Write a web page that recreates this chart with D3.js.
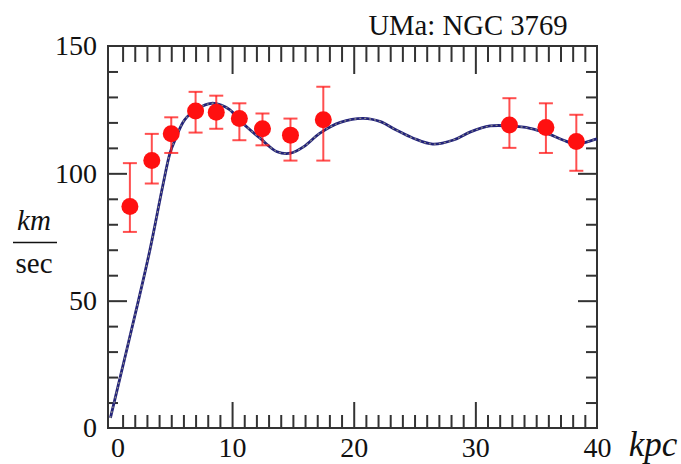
<!DOCTYPE html>
<html><head><meta charset="utf-8">
<script src="https://cdn.jsdelivr.net/npm/d3@7"></script>
<style>body{margin:0;background:#fff}svg{display:block}</style>
</head><body><svg id="c" width="681" height="464"></svg>
<script>
// Observed data points (kpc, km/sec) with lower/upper error bar ends
const radius = [1.6, 3.4, 5.0, 7.0, 8.7, 10.6, 12.5, 14.8, 17.5, 32.8, 35.8, 38.3];
const velocity = [87, 105, 115.5, 124.5, 124, 121.5, 117.5, 115, 121, 119, 118, 112.5];
const errLow = [77, 96, 108, 116, 117.5, 113, 111, 105, 105, 110, 108, 101];
const errHigh = [104, 115.5, 122, 132, 130.5, 127.5, 123.5, 121.5, 134, 129.5, 127.5, 123];
// Model curve
const curveR = [0, 2.3, 3.25, 4.3, 4.9, 5.3, 6.1, 7.2, 8.3, 9.1, 9.8, 10.9, 12.3, 13.7, 14.8, 15.9, 17.2, 18.9, 20.8, 22.2, 23.5, 24.9, 26.5, 28.2, 29.6, 31.2, 32.9, 34.5, 35.9, 37.2, 38.3, 39.7, 40];
const curveV = [4, 50, 70, 95, 108, 113, 121, 125.5, 127.5, 126.8, 125, 119.6, 113.8, 108.5, 107.9, 110.5, 115.7, 120, 121.6, 120.3, 117, 113.8, 111.5, 113.1, 116.3, 118.6, 118.6, 117.7, 115.7, 113.1, 111.5, 113.1, 113.5];
const xMajorTicks = [0, 10, 20, 30, 40];
const yMajorTicks = [0, 50, 100, 150];
const title = "UMa: NGC 3769";

const svg = d3.select("#c");
const L = 108, R = 597, T = 46, B = 428;
const x = d3.scaleLinear().domain([-0.2, 40]).range([L, R]);
const y = d3.scaleLinear().domain([0, 150]).range([B, T]);
const font = "'Liberation Serif','Times New Roman',serif";
const axisCol = "#333";

const xMinor = d3.range(1, 40).filter(v => v % 10 !== 0);
const yMinor = d3.range(10, 150, 10).filter(v => v % 50 !== 0);

function styleAxis(g) {
  g.select(".domain").remove();
  g.selectAll(".tick line").attr("stroke", axisCol).attr("stroke-width", 2);
  g.selectAll("text").attr("font-family", font).attr("font-size", 28).attr("fill", "#111");
}
// bottom
svg.append("g").attr("transform", `translate(0,${B})`)
  .call(d3.axisBottom(x).tickValues(xMinor).tickSizeInner(-13).tickSizeOuter(0).tickFormat(""))
  .call(styleAxis);
const bx = svg.append("g").attr("transform", `translate(0,${B})`)
  .call(d3.axisBottom(x).tickValues(xMajorTicks).tickSizeInner(-26).tickSizeOuter(0).tickPadding(9).tickFormat(d3.format("d")))
  .call(styleAxis);
bx.selectAll(".tick").filter(d => d === 0).select("text").attr("dx", 7);
bx.selectAll(".tick").filter(d => d === 0 || d === 40).select("line").remove();
// top
svg.append("g").attr("transform", `translate(0,${T})`)
  .call(d3.axisTop(x).tickValues(xMinor).tickSizeInner(-16).tickSizeOuter(0).tickFormat(""))
  .call(styleAxis);
svg.append("g").attr("transform", `translate(0,${T})`)
  .call(d3.axisTop(x).tickValues([10, 20, 30]).tickSizeInner(-28).tickSizeOuter(0).tickFormat(""))
  .call(styleAxis);
// left
svg.append("g").attr("transform", `translate(${L},0)`)
  .call(d3.axisLeft(y).tickValues(yMinor).tickSizeInner(-10).tickSizeOuter(0).tickFormat(""))
  .call(styleAxis);
const ly = svg.append("g").attr("transform", `translate(${L},0)`)
  .call(d3.axisLeft(y).tickValues(yMajorTicks).tickSizeInner(-19).tickSizeOuter(0).tickPadding(11).tickFormat(d3.format("d")))
  .call(styleAxis);
ly.selectAll(".tick").filter(d => d === 0 || d === 150).select("line").remove();
// right
svg.append("g").attr("transform", `translate(${R},0)`)
  .call(d3.axisRight(y).tickValues(yMinor).tickSizeInner(-11).tickSizeOuter(0).tickFormat(""))
  .call(styleAxis);
svg.append("g").attr("transform", `translate(${R},0)`)
  .call(d3.axisRight(y).tickValues([50, 100]).tickSizeInner(-19).tickSizeOuter(0).tickFormat(""))
  .call(styleAxis);

// frame
svg.append("rect").attr("x", L).attr("y", T).attr("width", R - L).attr("height", B - T)
  .attr("fill", "none").attr("stroke", axisCol).attr("stroke-width", 2);

// curve
const cdata = curveR.map((r, i) => [r, curveV[i]]);
const line = d3.line().x(d => x(d[0])).y(d => y(d[1])).curve(d3.curveCatmullRom.alpha(0.5));
svg.append("path").datum(cdata).attr("d", line).attr("fill", "none")
  .attr("stroke", "#23237a").attr("stroke-width", 2.8);
svg.append("path").datum(cdata).attr("d", line).attr("fill", "none")
  .attr("stroke", "#8a8a8a").attr("stroke-width", 1.3).attr("stroke-dasharray", "2,3");

// error bars
const pts = radius.map((r, i) => ({r, v: velocity[i], lo: errLow[i], hi: errHigh[i]}));
const eb = svg.append("g").attr("stroke", "rgba(255,20,20,0.75)").attr("stroke-width", 2);
pts.forEach(p => {
  eb.append("line").attr("x1", x(p.r)).attr("x2", x(p.r)).attr("y1", y(p.lo)).attr("y2", y(p.hi));
  eb.append("line").attr("x1", x(p.r) - 7).attr("x2", x(p.r) + 7).attr("y1", y(p.lo)).attr("y2", y(p.lo));
  eb.append("line").attr("x1", x(p.r) - 7).attr("x2", x(p.r) + 7).attr("y1", y(p.hi)).attr("y2", y(p.hi));
});
svg.append("g").selectAll("circle").data(pts).join("circle")
  .attr("cx", d => x(d.r)).attr("cy", d => y(d.v)).attr("r", 8.5).attr("fill", "#ff1010");

// texts
svg.append("text").attr("x", 468).attr("y", 35).attr("text-anchor", "middle")
  .attr("font-family", font).attr("font-size", 28.7).attr("fill", "#111").text(title);
svg.append("text").attr("x", 653).attr("y", 456).attr("text-anchor", "middle")
  .attr("font-family", font).attr("font-style", "italic").attr("font-size", 35).attr("fill", "#111").text("kpc");
svg.append("text").attr("x", 34).attr("y", 230).attr("text-anchor", "middle")
  .attr("font-family", font).attr("font-style", "italic").attr("font-size", 29).attr("fill", "#111").text("km");
svg.append("line").attr("x1", 13).attr("x2", 57).attr("y1", 242.5).attr("y2", 242.5)
  .attr("stroke", "#111").attr("stroke-width", 1.5);
svg.append("text").attr("x", 34).attr("y", 273).attr("text-anchor", "middle")
  .attr("font-family", font).attr("font-size", 29).attr("fill", "#111").text("sec");
</script></body></html>
